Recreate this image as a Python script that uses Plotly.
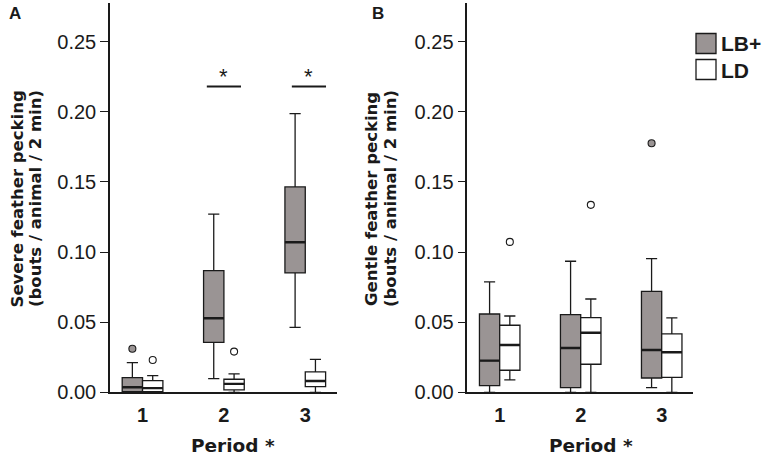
import plotly.graph_objects as go

W, H = 765, 457

periods = ["1", "2", "3"]
groups = ["LB+", "LD"]

# Panel A: Severe feather pecking  (per period: LB+ , LD)
a_lb_low = [0.0, 0.0097, 0.0463]
a_lb_q1 = [0.0005, 0.0356, 0.0851]
a_lb_med = [0.0036, 0.0528, 0.1070]
a_lb_q3 = [0.0105, 0.0867, 0.1464]
a_lb_high = [0.0212, 0.1270, 0.1987]
a_lb_out = [[0.031], [], []]

a_ld_low = [0.0, 0.0, 0.0]
a_ld_q1 = [0.0005, 0.0017, 0.0040]
a_ld_med = [0.0030, 0.0060, 0.0081]
a_ld_q3 = [0.0083, 0.0093, 0.0145]
a_ld_high = [0.0119, 0.0131, 0.0235]
a_ld_out = [[0.023], [0.029], []]

a_sig_periods = [1, 2]   # indices of periods 2 and 3
a_sig_level = 0.218

# Panel B: Gentle feather pecking
b_lb_low = [0.0, 0.0, 0.0033]
b_lb_q1 = [0.0048, 0.0033, 0.0102]
b_lb_med = [0.0226, 0.0316, 0.0302]
b_lb_q3 = [0.0558, 0.0554, 0.0720]
b_lb_high = [0.0787, 0.0934, 0.0953]
b_lb_out = [[], [], [0.1775]]

b_ld_low = [0.0088, 0.0, 0.0]
b_ld_q1 = [0.0157, 0.0200, 0.0107]
b_ld_med = [0.0337, 0.0425, 0.0285]
b_ld_q3 = [0.0478, 0.0532, 0.0416]
b_ld_high = [0.0544, 0.0665, 0.0530]
b_ld_out = [[0.1072], [0.1336], []]

y_ticks = [0.0, 0.05, 0.10, 0.15, 0.20, 0.25]

GREY = "#9a9494"
WHITE = "#ffffff"
INK = "#1a1a1a"
BOXW = 0.25

fig = go.Figure()


def add_group(xa, ya, offset, low, q1, med, q3, high, outs, fill):
    xs = [i + offset for i in range(len(periods))]
    fig.add_trace(go.Box(
        x=xs, lowerfence=low, q1=q1, median=med, q3=q3, upperfence=high,
        width=BOXW, whiskerwidth=0.55, fillcolor=fill,
        line=dict(color=INK, width=1.3), boxpoints=False,
        xaxis=xa, yaxis=ya, showlegend=False, hoverinfo="skip"))
    # thicker median
    mx, my = [], []
    for x, m in zip(xs, med):
        mx += [x - BOXW / 2, x + BOXW / 2, None]
        my += [m, m, None]
    fig.add_trace(go.Scatter(x=mx, y=my, mode="lines",
                             line=dict(color=INK, width=2.4),
                             xaxis=xa, yaxis=ya, showlegend=False, hoverinfo="skip"))
    ox, oy = [], []
    for x, vals in zip(xs, outs):
        for v in vals:
            ox.append(x)
            oy.append(v)
    if ox:
        fig.add_trace(go.Scatter(x=ox, y=oy, mode="markers",
                                 marker=dict(symbol="circle", size=7, color=fill,
                                             line=dict(color=INK, width=1.1)),
                                 xaxis=xa, yaxis=ya, showlegend=False, hoverinfo="skip"))


add_group("x", "y", -BOXW / 2, a_lb_low, a_lb_q1, a_lb_med, a_lb_q3, a_lb_high, a_lb_out, GREY)
add_group("x", "y", BOXW / 2, a_ld_low, a_ld_q1, a_ld_med, a_ld_q3, a_ld_high, a_ld_out, WHITE)
add_group("x2", "y2", -BOXW / 2, b_lb_low, b_lb_q1, b_lb_med, b_lb_q3, b_lb_high, b_lb_out, GREY)
add_group("x2", "y2", BOXW / 2, b_ld_low, b_ld_q1, b_ld_med, b_ld_q3, b_ld_high, b_ld_out, WHITE)

shapes = []
annotations = []

# significance bars
for k, i in enumerate(a_sig_periods):
    c = i + (0.0 if k == 0 else 0.045)
    shapes.append(dict(type="line", xref="x", yref="y", x0=c - 0.21, x1=c + 0.21,
                       y0=a_sig_level, y1=a_sig_level, line=dict(color=INK, width=2)))
    annotations.append(dict(text="*", xref="x", yref="y", x=c, y=a_sig_level,
                            yanchor="bottom", showarrow=False, yshift=-5,
                            font=dict(family="Liberation Sans, Arial", size=22, color=INK)))


def px(x):
    return x / W


def py(y):
    return 1 - y / H


# legend
leg_items = [(groups[0], GREY, 33.5, 53.5, 44), (groups[1], WHITE, 59.5, 79.5, 70)]
for name, col, y0, y1, yc in leg_items:
    shapes.append(dict(type="rect", xref="paper", yref="paper",
                       x0=px(696), x1=px(716), y0=py(y1), y1=py(y0),
                       fillcolor=col, line=dict(color=INK, width=1.3)))
    annotations.append(dict(text="<b>%s</b>" % name, xref="paper", yref="paper",
                            x=px(719), y=py(yc), xanchor="left", yanchor="middle",
                            showarrow=False,
                            font=dict(family="Liberation Sans, Arial", size=21, color=INK)))

TITLE_FONT = dict(family="DejaVu Sans", size=16.5, color=INK)
# y titles
for x1, x2, line1 in [(16.5, 35, "Severe feather pecking"), (371, 390, "Gentle feather pecking")]:
    for xx, txt in [(x1, line1), (x2, "(bouts / animal / 2 min)")]:
        annotations.append(dict(text="<b>%s</b>" % txt, xref="paper", yref="paper",
                                x=px(xx), y=py(199), xanchor="center", yanchor="middle",
                                textangle=-90, showarrow=False, font=TITLE_FONT))

# x titles
for xl in [189, 546.5]:
    annotations.append(dict(text="<b>Period *</b>", xref="paper", yref="paper",
                            x=px(xl), y=py(445), xanchor="left", yanchor="middle",
                            showarrow=False, font=dict(family="DejaVu Sans", size=18.5, color=INK)))

# panel letters
for lx, lt in [(15, "A"), (378, "B")]:
    annotations.append(dict(text="<b>%s</b>" % lt, xref="paper", yref="paper",
                            x=px(lx), y=py(13), xanchor="center", yanchor="middle",
                            showarrow=False, font=dict(family="Liberation Sans, Arial", size=17, color=INK)))

xaxis_common = dict(range=[-0.4, 2.39], tickvals=[0, 1, 2], ticktext=periods,
                    showline=True, linecolor=INK, linewidth=1.5, ticks="",
                    showgrid=False, zeroline=False, automargin=False,
                    ticklabelstandoff=4,
                    tickfont=dict(family="Liberation Sans, Arial", size=20, color=INK,
                                  weight="bold"))
yaxis_common = dict(range=[0, 0.2775], tickvals=y_ticks, tickformat=".2f",
                    showline=True, linecolor=INK, linewidth=1.5, ticks="outside",
                    ticklen=8, tickwidth=1.3, tickcolor=INK,
                    showgrid=False, zeroline=False, automargin=False,
                    domain=[py(392.3), py(3)],
                    tickfont=dict(family="Liberation Sans, Arial", size=20, color=INK))

fig.update_layout(
    width=W, height=H,
    margin=dict(l=0, r=0, t=0, b=0),
    paper_bgcolor="white", plot_bgcolor="white",
    template="none",
    showlegend=False,
    boxmode="overlay",
    xaxis=dict(domain=[px(110), px(337)], anchor="y", **xaxis_common),
    yaxis=dict(anchor="x", **yaxis_common),
    xaxis2=dict(domain=[px(467.3), px(693.3)], anchor="y2", **xaxis_common),
    yaxis2=dict(anchor="x2", **yaxis_common),
    shapes=shapes,
    annotations=annotations,
)

fig.write_html("out.html", config={"displayModeBar": False},
               post_script="document.body.style.margin='0';document.body.style.overflow='hidden';")
